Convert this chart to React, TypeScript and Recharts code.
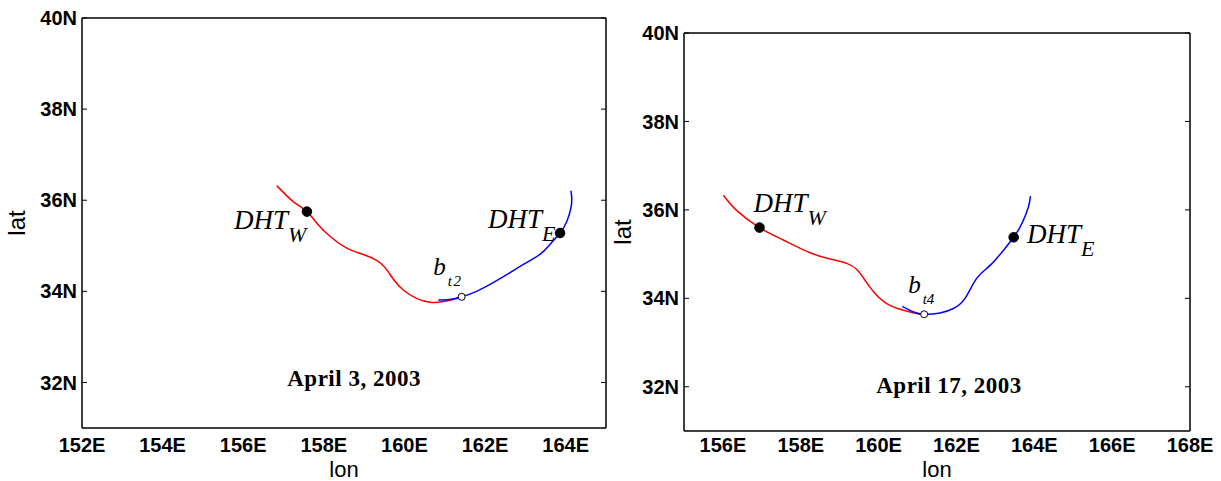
import { LineChart, Line, XAxis, YAxis, ReferenceDot } from 'recharts';

// front positions (lon in deg E, lat in deg N)
const apr3WestLon = [156.83, 157.24, 157.58, 157.86, 158.15, 158.57, 158.98, 159.31, 159.52, 159.73, 159.97, 160.31, 160.64, 160.93, 161.21, 161.34];
const apr3WestLat = [36.32, 35.97, 35.75, 35.46, 35.21, 34.95, 34.81, 34.68, 34.52, 34.26, 34.03, 33.84, 33.76, 33.77, 33.82, 33.86];
const apr3EastLon = [160.84, 161.12, 161.42, 161.79, 162.2, 162.62, 162.95, 163.36, 163.61, 163.86, 164.03, 164.13, 164.15, 164.13];
const apr3EastLat = [33.81, 33.82, 33.88, 34.0, 34.19, 34.41, 34.59, 34.81, 35.03, 35.28, 35.54, 35.83, 36.05, 36.21];

const apr17WestLon = [156.01, 156.35, 156.94, 157.55, 158.24, 158.75, 159.18, 159.44, 159.65, 159.87, 160.21, 160.64, 161.07, 161.17];
const apr17WestLat = [36.33, 35.99, 35.6, 35.32, 35.03, 34.89, 34.79, 34.65, 34.41, 34.15, 33.88, 33.73, 33.64, 33.64];
const apr17EastLon = [160.61, 160.9, 161.17, 161.58, 161.92, 162.22, 162.52, 162.87, 163.21, 163.47, 163.68, 163.85, 163.9];
const apr17EastLat = [33.82, 33.69, 33.64, 33.67, 33.77, 34.0, 34.45, 34.75, 35.09, 35.38, 35.69, 36.07, 36.31];

// marker points [lon, lat]
const apr3DhtW = [157.58, 35.75];
const apr3DhtE = [163.86, 35.28];
const apr3Bt = [161.42, 33.88];
const apr17DhtW = [156.94, 35.6];
const apr17DhtE = [163.47, 35.38];
const apr17Bt = [161.17, 33.64];

const latTicks = [32, 34, 36, 38, 40];
const apr3LonTicks = [152, 154, 156, 158, 160, 162, 164];
const apr17LonTicks = [156, 158, 160, 162, 164, 166, 168];

const SANS = '"Liberation Sans", Arial, Helvetica, sans-serif';
const SERIF = '"Liberation Serif", "Times New Roman", Times, serif';

const toPoints = (lon: number[], lat: number[]) => lon.map((x, i) => ({ lon: x, lat: lat[i] }));

// no tick text on the box-only axes, just the inward tick marks
const noTickText = () => <g />;

const dhtLabel = (sub: string, dx: number, dy: number) => (props: any) => {
  const { viewBox } = props;
  const x = viewBox.x + viewBox.width / 2 + dx;
  const y = viewBox.y + viewBox.height / 2 + dy;
  return (
    <text x={x} y={y} fontFamily={SERIF} fontStyle="italic" fontSize={27} fill="#000">
      DHT
      <tspan fontSize={22} dy={13}>{sub}</tspan>
    </text>
  );
};

const bLabel = (sub: string, dx: number, dy: number, gap: number) => (props: any) => {
  const { viewBox } = props;
  const x = viewBox.x + viewBox.width / 2 + dx;
  const y = viewBox.y + viewBox.height / 2 + dy;
  return (
    <text x={x} y={y} fontFamily={SERIF} fontStyle="italic" fontSize={25} fill="#000">
      b
      <tspan fontSize={15} dx={2} dy={10.5}>t</tspan>
      <tspan fontSize={15} dx={gap}>{sub}</tspan>
    </text>
  );
};

const dateLabel = (text: string) => (props: any) => {
  const { viewBox } = props;
  return (
    <text
      x={viewBox.x + viewBox.width / 2}
      y={viewBox.y + viewBox.height / 2}
      textAnchor="middle"
      fontFamily={SERIF}
      fontWeight="bold"
      fontSize={23}
      letterSpacing={0.5}
      fill="#000"
    >
      {text}
    </text>
  );
};

type PanelProps = {
  width: number;
  margin: { top: number; right: number; bottom: number; left: number };
  yAxisWidth: number;
  latLabelX: number;
  xTickMargin: number;
  lonDomain: [number, number];
  lonTicks: number[];
  west: { lon: number; lat: number }[];
  east: { lon: number; lat: number }[];
  dhtW: number[];
  dhtE: number[];
  bt: number[];
  wOffset: [number, number];
  eOffset: [number, number];
  bOffset: [number, number];
  bSub: string;
  bGap: number;
  date: string;
  datePos: [number, number];
};

function FrontPanel(p: PanelProps) {
  const tickStyle = { fill: '#000', fontSize: 20, fontWeight: 'bold', fontFamily: SANS };
  const axisLine = { stroke: '#000', strokeWidth: 1.5 };
  const tickLine = { stroke: '#000', strokeWidth: 1 };
  return (
    <LineChart width={p.width} height={481} margin={p.margin}>
      <XAxis
        xAxisId="b"
        dataKey="lon"
        type="number"
        domain={p.lonDomain}
        ticks={p.lonTicks}
        interval={0}
        allowDataOverflow
        height={40}
        tickLine={false}
        tickSize={0}
        tickMargin={p.xTickMargin}
        axisLine={axisLine}
        tick={tickStyle}
        tickFormatter={(v: number) => `${v}E`}
        label={(props: any) => {
          const vb = props.viewBox;
          return (
            <text x={vb.x + vb.width / 2} y={477} textAnchor="middle" fontFamily={SANS} fontSize={22} fill="#000">
              lon
            </text>
          );
        }}
      />
      <XAxis xAxisId="bm" type="number" domain={p.lonDomain} ticks={p.lonTicks} interval={0} allowDataOverflow mirror tick={noTickText} tickSize={5} axisLine={false} tickLine={tickLine} />
      <XAxis xAxisId="t" orientation="top" type="number" domain={p.lonDomain} ticks={p.lonTicks} interval={0} allowDataOverflow mirror tick={noTickText} tickSize={5} axisLine={axisLine} tickLine={tickLine} />
      <YAxis
        yAxisId="l"
        type="number"
        domain={[31, 40]}
        ticks={latTicks}
        interval={0}
        allowDataOverflow
        width={p.yAxisWidth}
        tickLine={false}
        tickSize={0}
        tickMargin={5}
        axisLine={axisLine}
        tick={tickStyle}
        tickFormatter={(v: number) => `${v}N`}
        label={(props: any) => {
          const vb = props.viewBox;
          const cy = vb.y + vb.height / 2;
          return (
            <text x={p.latLabelX} y={cy} textAnchor="middle" transform={`rotate(-90, ${p.latLabelX}, ${cy})`} fontFamily={SANS} fontSize={24} fill="#000">
              lat
            </text>
          );
        }}
      />
      <YAxis yAxisId="lm" type="number" domain={[31, 40]} ticks={latTicks} interval={0} allowDataOverflow mirror tick={noTickText} tickSize={5} axisLine={false} tickLine={tickLine} />
      <YAxis yAxisId="r" orientation="right" type="number" domain={[31, 40]} ticks={latTicks} interval={0} allowDataOverflow mirror tick={noTickText} tickSize={5} axisLine={axisLine} tickLine={tickLine} />

      <Line xAxisId="b" yAxisId="l" data={p.west} dataKey="lat" type="natural" stroke="#ff0000" strokeWidth={1.5} dot={false} isAnimationActive={false} />
      <Line xAxisId="b" yAxisId="l" data={p.east} dataKey="lat" type="natural" stroke="#0000ff" strokeWidth={1.5} dot={false} isAnimationActive={false} />

      <ReferenceDot xAxisId="b" yAxisId="l" x={p.dhtW[0]} y={p.dhtW[1]} r={4.8} fill="#000" stroke="#000" label={dhtLabel('W', p.wOffset[0], p.wOffset[1])} />
      <ReferenceDot xAxisId="b" yAxisId="l" x={p.dhtE[0]} y={p.dhtE[1]} r={4.8} fill="#000" stroke="#000" label={dhtLabel('E', p.eOffset[0], p.eOffset[1])} />
      <ReferenceDot xAxisId="b" yAxisId="l" x={p.bt[0]} y={p.bt[1]} r={3.5} fill="#fff" stroke="#000" strokeWidth={1} label={bLabel(p.bSub, p.bOffset[0], p.bOffset[1], p.bGap)} />
      <ReferenceDot xAxisId="b" yAxisId="l" x={p.datePos[0]} y={p.datePos[1]} r={0} fill="none" stroke="none" label={dateLabel(p.date)} />
    </LineChart>
  );
}

export default function App() {
  return (
    <div style={{ position: 'absolute', left: 0, top: 0, width: 1221, height: 481, background: '#fff', overflow: 'hidden' }}>
      <div style={{ position: 'absolute', left: 0, top: 0 }}>
        <FrontPanel
          width={610}
          margin={{ top: 18, right: 4, bottom: 13, left: 0 }}
          yAxisWidth={82}
          latLabelX={25}
          xTickMargin={10}
          lonDomain={[152, 165]}
          lonTicks={apr3LonTicks}
          west={toPoints(apr3WestLon, apr3WestLat)}
          east={toPoints(apr3EastLon, apr3EastLat)}
          dhtW={apr3DhtW}
          dhtE={apr3DhtE}
          bt={apr3Bt}
          wOffset={[-73, 17.6]}
          eOffset={[-72, -5]}
          bOffset={[-28.4, -21.7]}
          bSub="2"
          bGap={1.5}
          date="April 3, 2003"
          datePos={[158.75, 31.93]}
        />
      </div>
      <div style={{ position: 'absolute', left: 610, top: 0 }}>
        <FrontPanel
          width={611}
          margin={{ top: 33, right: 31, bottom: 10, left: 0 }}
          yAxisWidth={74}
          latLabelX={21}
          xTickMargin={7}
          lonDomain={[155, 168]}
          lonTicks={apr17LonTicks}
          west={toPoints(apr17WestLon, apr17WestLat)}
          east={toPoints(apr17EastLon, apr17EastLat)}
          dhtW={apr17DhtW}
          dhtE={apr17DhtE}
          bt={apr17Bt}
          wOffset={[-6, -15.6]}
          eOffset={[13.4, 6]}
          bOffset={[-16, -21]}
          bSub="4"
          bGap={0}
          date="April 17, 2003"
          datePos={[161.81, 31.85]}
        />
      </div>
    </div>
  );
}
